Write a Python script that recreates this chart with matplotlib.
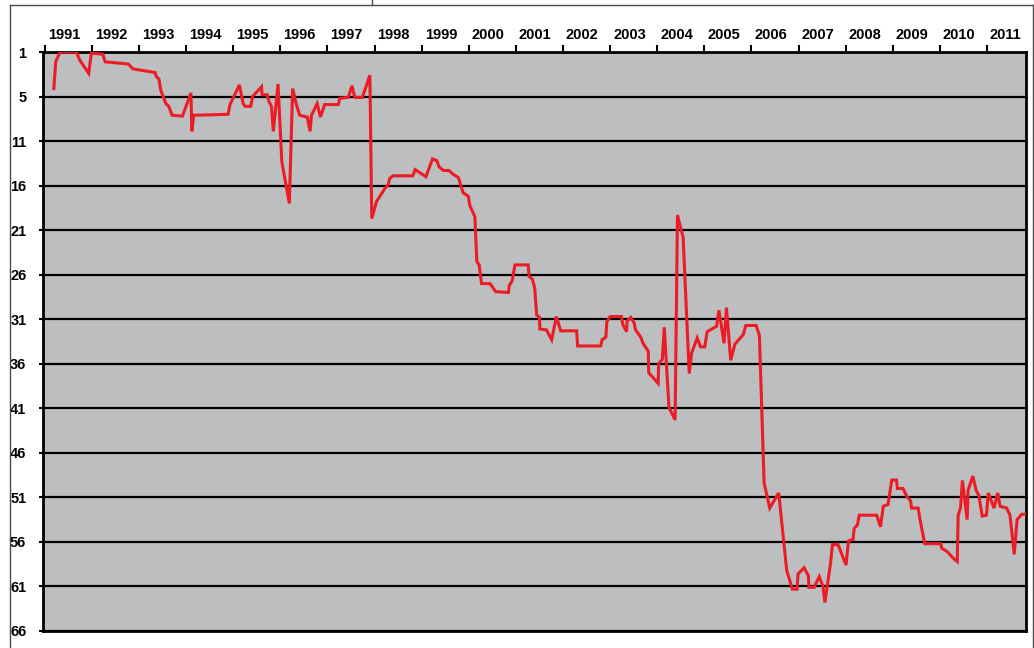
import matplotlib
matplotlib.use('Agg')
import matplotlib.pyplot as plt
import matplotlib.transforms as mtransforms
from matplotlib.lines import Line2D

# ---- data ----
years = [
    1991.19, 1991.23, 1991.32, 1991.67, 1991.74, 1991.93, 1991.99, 1992.03, 1992.23, 1992.28,
    1992.77, 1992.87, 1993.34, 1993.37, 1993.42, 1993.46, 1993.57, 1993.63, 1993.70, 1993.92,
    1994.10, 1994.12, 1994.16, 1994.89, 1994.93, 1995.13, 1995.21, 1995.25, 1995.37, 1995.41,
    1995.60, 1995.61, 1995.72, 1995.76, 1995.81, 1995.85, 1995.95, 1996.03, 1996.19, 1996.26,
    1996.34, 1996.41, 1996.57, 1996.63, 1996.66, 1996.78, 1996.85, 1996.94, 1997.23, 1997.26,
    1997.44, 1997.52, 1997.58, 1997.74, 1997.90, 1997.94, 1998.04, 1998.22, 1998.29, 1998.32,
    1998.39, 1998.81, 1998.86, 1999.09, 1999.23, 1999.32, 1999.37, 1999.46, 1999.58, 1999.66,
    1999.78, 1999.88, 1999.99, 2000.02, 2000.13, 2000.17, 2000.22, 2000.27, 2000.45, 2000.57,
    2000.84, 2000.86, 2000.92, 2000.98, 2001.26, 2001.28, 2001.35, 2001.40, 2001.44, 2001.50,
    2001.51, 2001.65, 2001.76, 2001.86, 2001.95, 2002.29, 2002.31, 2002.80, 2002.83, 2002.91,
    2002.93, 2003.00, 2003.24, 2003.27, 2003.35, 2003.36, 2003.44, 2003.51, 2003.54, 2003.65,
    2003.70, 2003.81, 2003.82, 2004.02, 2004.03, 2004.11, 2004.15, 2004.25, 2004.38, 2004.43,
    2004.55, 2004.68, 2004.73, 2004.85, 2004.92, 2005.01, 2005.06, 2005.26, 2005.31, 2005.42,
    2005.47, 2005.56, 2005.65, 2005.83, 2005.88, 2006.10, 2006.17, 2006.27, 2006.39, 2006.58,
    2006.75, 2006.87, 2006.97, 2006.99, 2007.12, 2007.21, 2007.22, 2007.33, 2007.44, 2007.52,
    2007.56, 2007.68, 2007.72, 2007.84, 2008.01, 2008.06, 2008.16, 2008.18, 2008.25, 2008.29,
    2008.66, 2008.74, 2008.80, 2008.90, 2008.98, 2009.08, 2009.10, 2009.22, 2009.30, 2009.38,
    2009.40, 2009.54, 2009.58, 2009.68, 2010.02, 2010.04, 2010.16, 2010.28, 2010.37, 2010.38,
    2010.39, 2010.44, 2010.48, 2010.58, 2010.60, 2010.70, 2010.77, 2010.83, 2010.90, 2010.99,
    2011.03, 2011.15, 2011.23, 2011.28, 2011.42, 2011.49, 2011.58, 2011.64, 2011.74, 2011.83,
]
ranks = [
    5.1, 2.1, 1.0, 1.0, 1.9, 3.4, 1.0, 1.15, 1.25, 2.1,
    2.35, 2.9, 3.3, 3.8, 4.0, 5.3, 6.8, 7.1, 8.1, 8.2,
    5.6, 9.9, 8.1, 8.0, 6.9, 4.7, 6.8, 7.1, 7.1, 6.0,
    4.9, 5.8, 5.8, 6.6, 7.1, 9.9, 4.6, 13.3, 18.0, 5.1,
    6.9, 8.1, 8.3, 9.9, 8.1, 6.8, 8.3, 6.9, 6.9, 6.2,
    6.1, 4.8, 6.1, 6.1, 3.6, 19.7, 17.8, 16.3, 15.9, 15.2,
    14.9, 14.9, 14.2, 15.0, 13.0, 13.2, 13.9, 14.3, 14.3, 14.7,
    15.1, 16.8, 17.2, 18.2, 19.5, 24.5, 24.9, 27.0, 27.0, 27.9,
    28.0, 27.2, 26.7, 24.9, 24.9, 26.2, 26.5, 27.5, 30.5, 30.8,
    32.1, 32.2, 33.3, 30.7, 32.3, 32.3, 34.0, 34.0, 33.3, 33.0,
    31.3, 30.7, 30.7, 31.6, 32.4, 31.2, 30.8, 31.4, 32.2, 33.0,
    33.7, 34.6, 37.0, 38.2, 36.0, 35.5, 31.9, 40.9, 42.3, 19.3,
    21.8, 37.1, 34.8, 33.1, 34.1, 34.1, 32.4, 31.8, 30.0, 33.7,
    29.7, 35.6, 33.8, 32.7, 31.7, 31.7, 32.8, 49.4, 52.2, 50.5,
    59.2, 61.3, 61.3, 59.6, 58.9, 59.8, 61.1, 61.1, 59.9, 61.0,
    62.8, 58.4, 56.3, 56.3, 58.6, 55.9, 55.7, 54.5, 54.1, 53.0,
    53.0, 54.3, 52.0, 51.8, 49.05, 49.05, 50.0, 50.0, 50.9, 51.4,
    52.2, 52.2, 53.5, 56.2, 56.2, 56.7, 57.1, 57.8, 58.2, 55.5,
    53.0, 52.2, 49.1, 53.5, 50.2, 48.6, 50.2, 50.8, 53.1, 53.0,
    50.5, 52.2, 50.5, 52.0, 52.2, 53.0, 57.4, 53.5, 52.9, 52.9,
]
year_ticks = list(range(1991, 2012))
year_labels = [str(y) for y in year_ticks]
rank_ticks = [1, 6, 11, 16, 21, 26, 31, 36, 41, 46, 51, 56, 61, 66]
rank_labels = ['1', '5', '11', '16', '21', '26', '31', '36', '41', '46', '51', '56', '61', '66']

W, H = 1034, 648
fig = plt.figure(figsize=(W / 100, H / 100), dpi=100)
fig.patch.set_facecolor('white')

left, right, top, bottom = 43, 1026, 52, 631
ax = fig.add_axes([left / W, 1 - bottom / H, (right - left) / W, (bottom - top) / H])
ax.set_facecolor('#bcbec0')

ax.plot(years, ranks, color='#ed1c24', lw=2.2, solid_joinstyle='miter', zorder=3)

ax.set_xlim(1990.96, 2011.83)
ax.set_ylim(66, 1)

ax.set_yticks(rank_ticks)
ax.set_yticklabels(rank_labels)
ax.yaxis.grid(True, color='black', lw=1.6)
ax.xaxis.grid(False)
ax.set_axisbelow(True)

ax.xaxis.tick_top()
ax.set_xticks(year_ticks)
ax.set_xticklabels(year_labels)

font = dict(family=['Liberation Sans Narrow', 'Liberation Sans', 'DejaVu Sans'],
            weight='bold', size=10.5)
ax.tick_params(axis='x', direction='out', length=5, width=1.5, pad=2, color='black')
ax.tick_params(axis='y', direction='out', length=3, width=1.5, pad=9, color='black')
for lbl in ax.get_xticklabels():
    lbl.set_fontproperties(matplotlib.font_manager.FontProperties(**font))
    lbl.set_ha('left')
    lbl.set_transform(lbl.get_transform() +
                      mtransforms.ScaledTranslation(3 / 100, 0, fig.dpi_scale_trans))
for lbl in ax.get_yticklabels():
    lbl.set_fontproperties(matplotlib.font_manager.FontProperties(**font))

for s in ax.spines.values():
    s.set_linewidth(2)
    s.set_color('black')

# outer frame lines
fc = '#4a4a4a'
fig.add_artist(Line2D([10 / W, 10 / W], [0, 1 - 5 / H], transform=fig.transFigure, color=fc, lw=1))
fig.add_artist(Line2D([10 / W, 1033 / W], [1 - 5 / H, 1 - 5 / H], transform=fig.transFigure, color=fc, lw=1))
fig.add_artist(Line2D([1033 / W, 1033 / W], [0, 1 - 5 / H], transform=fig.transFigure, color=fc, lw=1))
fig.add_artist(Line2D([372 / W, 372 / W], [1 - 5 / H, 1], transform=fig.transFigure, color=fc, lw=1))

fig.savefig('out.png', dpi=100)
